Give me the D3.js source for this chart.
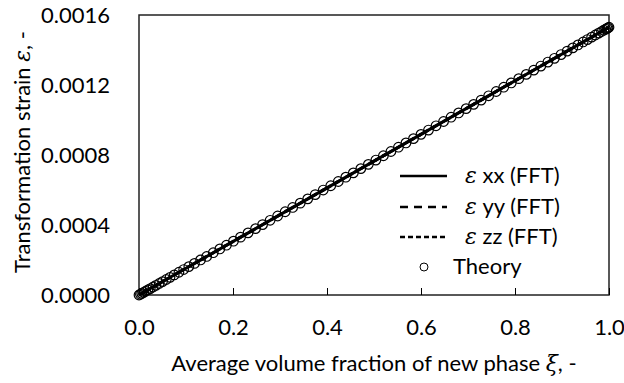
<!DOCTYPE html>
<html>
<head>
<meta charset="utf-8">
<script src="https://cdn.jsdelivr.net/npm/d3@7"></script>
<style>
  body { margin: 0; background: #fff; }
  text { font-family: Lato, "Open Sans", sans-serif; fill: #000; }
  .eps { font-family: "DejaVu Serif", serif; font-style: italic; }
</style>
</head>
<body>
<div id="chart"></div>
<script>
// FFT results (strain in units of 1e-6)
var xiFFT = [0, 0.25, 0.5, 0.75, 1.0];
var strainXX = [0, 382, 765, 1148, 1530];
var strainYY = [0, 382, 765, 1148, 1530];
var strainZZ = [0, 382, 765, 1148, 1530];

// theory points (strain in units of 1e-6)
var xiTheory = [0.000, 0.003, 0.006, 0.010, 0.014, 0.019, 0.024, 0.030, 0.036, 0.043,
  0.050, 0.058, 0.066, 0.075, 0.085, 0.095, 0.106, 0.118, 0.131, 0.144,
  0.158, 0.172, 0.186, 0.201, 0.216, 0.232, 0.248, 0.263, 0.279, 0.295,
  0.311, 0.327, 0.343, 0.359, 0.375, 0.392, 0.408, 0.424, 0.440, 0.456,
  0.472, 0.488, 0.504, 0.520, 0.536, 0.552, 0.568, 0.584, 0.600, 0.616,
  0.632, 0.648, 0.664, 0.680, 0.696, 0.712, 0.728, 0.744, 0.760, 0.776,
  0.792, 0.808, 0.824, 0.840, 0.855, 0.870, 0.884, 0.898, 0.911, 0.923,
  0.934, 0.945, 0.954, 0.963, 0.971, 0.978, 0.984, 0.989, 0.993, 0.996, 0.998, 1.000];
var strainTheory = [0, 4.6, 9.2, 15.3, 21.4, 29.1, 36.7, 45.9, 55.1, 65.8,
  76.5, 88.7, 101.0, 114.8, 130.1, 145.4, 162.2, 180.5, 200.4, 220.3,
  241.7, 263.2, 284.6, 307.5, 330.5, 355.0, 379.4, 402.4, 426.9, 451.4,
  475.8, 500.3, 524.8, 549.3, 573.8, 599.8, 624.2, 648.7, 673.2, 697.7,
  722.2, 746.6, 771.1, 795.6, 820.1, 844.6, 869.0, 893.5, 918.0, 942.5,
  967.0, 991.4, 1015.9, 1040.4, 1064.9, 1089.4, 1113.8, 1138.3, 1162.8, 1187.3,
  1211.8, 1236.2, 1260.7, 1285.2, 1308.2, 1331.1, 1352.5, 1373.9, 1393.8, 1412.2,
  1429.0, 1445.9, 1459.6, 1473.4, 1485.6, 1496.3, 1505.5, 1513.2, 1519.3, 1523.9, 1526.9, 1530];

var xTicks = [0, 0.2, 0.4, 0.6, 0.8, 1.0];
var yTicks = [0, 400, 800, 1200, 1600];

var legendItems = [
  { sub: " xx (FFT)", dash: null, w: 2.5 },
  { sub: " yy (FFT)", dash: "8,6", w: 2.5 },
  { sub: " zz (FFT)", dash: "5,3", w: 2.5 }
];

var width = 624, height = 383;
var mLeft = 139, mRight = 609, mTop = 15, mBottom = 295;
var fs = "22px";

var svg = d3.select("#chart").append("svg")
  .attr("width", width)
  .attr("height", height);

var x = d3.scaleLinear().domain([0, 1]).range([mLeft, mRight]);
var y = d3.scaleLinear().domain([0, 1600]).range([mBottom, mTop]);

//plot frame
svg.append("rect")
  .attr("x", mLeft).attr("y", mTop)
  .attr("width", mRight - mLeft).attr("height", mBottom - mTop)
  .attr("fill", "none")
  .attr("stroke", "#222")
  .attr("stroke-width", 1.5);

//x ticks pointing inward
var xAxis = svg.append("g")
  .attr("transform", "translate(0," + mBottom + ")")
  .call(d3.axisBottom(x).tickValues(xTicks).tickSizeInner(-7).tickSizeOuter(0)
    .tickPadding(24).tickFormat(d3.format(".1f")));
xAxis.select(".domain").remove();
xAxis.selectAll("line").attr("stroke", "#000");
xAxis.selectAll("text").style("font-size", fs).style("font-family", "Lato, sans-serif");

var yAxis = svg.append("g")
  .attr("transform", "translate(" + mLeft + ",0)")
  .call(d3.axisLeft(y).tickValues(yTicks).tickSize(0).tickPadding(29)
    .tickFormat(d => (d / 1e6).toFixed(4)));
yAxis.select(".domain").remove();
yAxis.selectAll("text").style("font-size", fs).style("font-family", "Lato, sans-serif");

//lines
var line = d3.line();
function drawLine(ys, dash, w) {
  var pts = xiFFT.map((v, i) => [x(v), y(ys[i])]);
  svg.append("path")
    .attr("d", line(pts))
    .attr("fill", "none")
    .attr("stroke", "#000")
    .attr("stroke-width", w)
    .attr("stroke-dasharray", dash);
}
drawLine(strainXX, null, 3);
drawLine(strainYY, legendItems[1].dash, 3);
drawLine(strainZZ, legendItems[2].dash, 3);

//theory circles
svg.append("g").selectAll("circle")
  .data(xiTheory)
  .join("circle")
  .attr("cx", d => x(d))
  .attr("cy", (d, i) => y(strainTheory[i]))
  .attr("r", 4.8)
  .attr("fill", "none")
  .attr("stroke", "#000")
  .attr("stroke-width", 1.2);

//legend
var lgY = [176, 207, 237, 267];
legendItems.forEach(function (it, i) {
  svg.append("line")
    .attr("x1", 400).attr("x2", 447)
    .attr("y1", lgY[i]).attr("y2", lgY[i])
    .attr("stroke", "#000")
    .attr("stroke-width", it.w)
    .attr("stroke-dasharray", it.dash);
  var t = svg.append("text")
    .attr("x", 465).attr("y", lgY[i] + 7)
    .style("font-size", fs);
  t.append("tspan").attr("class", "eps").text("ε");
  t.append("tspan").text(it.sub);
});
svg.append("circle")
  .attr("cx", 424).attr("cy", lgY[3])
  .attr("r", 4)
  .attr("fill", "none").attr("stroke", "#000");
svg.append("text")
  .attr("x", 453).attr("y", lgY[3] + 7)
  .style("font-size", fs)
  .text("Theory");

//axis titles
var xt = svg.append("text")
  .attr("text-anchor", "middle")
  .attr("x", (mLeft + mRight) / 2)
  .attr("y", 371)
  .style("font-size", fs);
xt.append("tspan").text("Average volume fraction of new phase ");
xt.append("tspan").attr("class", "eps").text("ξ");
xt.append("tspan").text(", -");

var yt = svg.append("text")
  .attr("text-anchor", "middle")
  .attr("transform", "translate(30," + 152 + ") rotate(-90)")
  .style("font-size", fs);
yt.append("tspan").text("Transformation strain ");
yt.append("tspan").attr("class", "eps").text("ε");
yt.append("tspan").text(", -");
</script>
</body>
</html>
